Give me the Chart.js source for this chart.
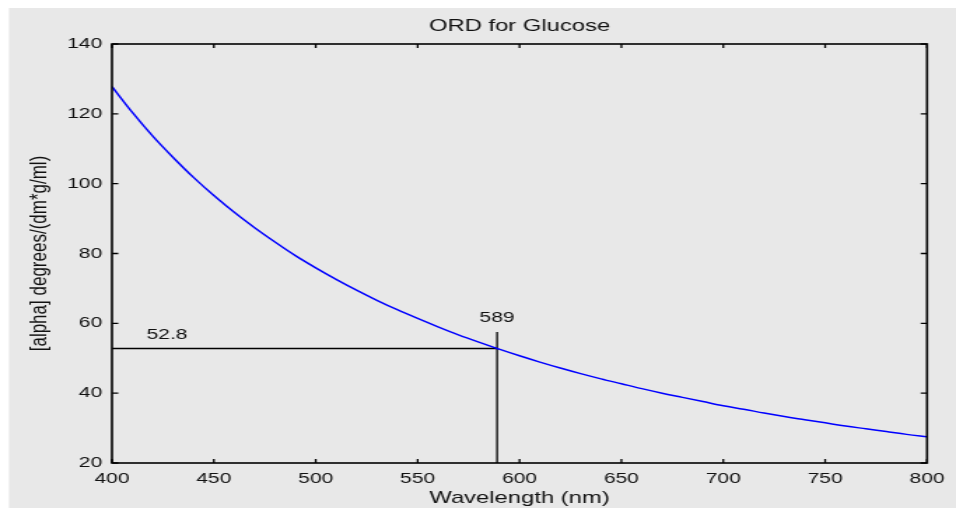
<!DOCTYPE html>
<html>
<head>
<meta charset="utf-8">
<script src="https://cdn.jsdelivr.net/npm/chart.js@4/dist/chart.umd.min.js"></script>
<style>
  body { margin: 0; background: #fff; }
</style>
</head>
<body>
<!-- the reference is horizontally stretched, so the canvas is drawn narrower and stretched by css -->
<canvas id="ord" width="683" height="510" style="width:956px;height:510px;display:block"></canvas>
<script>
// wavelength (nm) and specific rotation
var wavelength = [400, 410, 420, 430, 440, 450, 460, 470, 480, 490, 500, 510, 520, 530, 540, 550, 560, 570, 580, 589, 590,
    600, 610, 620, 630, 640, 650, 660, 670, 680, 690, 700, 710, 720, 730, 740, 750, 760, 770, 780, 790, 800];
var rotation = [127.8, 120.4, 113.6, 107.5, 101.8, 96.6, 91.8, 87.4, 83.3, 79.4, 75.9, 72.6, 69.5, 66.6, 63.9, 61.4, 59.0, 56.7, 54.6, 52.8, 52.6,
    50.7, 48.9, 47.2, 45.6, 44.1, 42.7, 41.3, 40.0, 38.8, 37.6, 36.4, 35.4, 34.3, 33.3, 32.4, 31.5, 30.6, 29.8, 29.0, 28.2, 27.5];

// sodium D line marker
var markX = [400, 589];
var markY = [52.8, 52.8];
var dropX = [589, 589];
var dropY = [20, 57.5];

var noteText = ['52.8', '589'];
var noteX = [427, 589];
var noteY = [56.6, 61.5];

var xTicks = [400, 450, 500, 550, 600, 650, 700, 750, 800];
var yTicks = [20, 40, 60, 80, 100, 120, 140];

var FONT = 'Arial, "Liberation Sans", sans-serif';
Chart.defaults.font.family = FONT;
Chart.defaults.color = '#111';

function pts(xs, ys) {
    return xs.map((x, i) => ({x: x, y: ys[i]}));
}

var frame = {
    id: 'frame',
    beforeDraw(chart) {
        var c = chart.ctx;
        c.save();
        c.fillStyle = '#fff';
        c.fillRect(0, 0, chart.width, chart.height);
        c.fillStyle = '#e8e8e8';
        c.fillRect(6.4, 8, chart.width, 500);
        c.restore();
    },
    afterDatasetsDraw(chart) {
        var c = chart.ctx, a = chart.chartArea, x = chart.scales.x, y = chart.scales.y;
        c.save();
        c.fillStyle = '#111';
        c.textAlign = 'center';
        c.textBaseline = 'middle';
        // title sits over the middle of the axes box, like matlab
        c.font = '17px ' + FONT;
        c.fillText('ORD for Glucose', (a.left + a.right) / 2, 26);
        c.font = '15px ' + FONT;
        noteText.forEach((t, i) => {
            c.fillText(t, x.getPixelForValue(noteX[i]), y.getPixelForValue(noteY[i]));
        });
        c.strokeStyle = '#000';
        c.lineWidth = 1.6;
        c.strokeRect(a.left, a.top, a.right - a.left, a.bottom - a.top);
        c.lineWidth = 1.3;
        c.beginPath();
        x.ticks.forEach(t => {
            var px = x.getPixelForValue(t.value);
            c.moveTo(px, a.bottom); c.lineTo(px, a.bottom - 4);
            c.moveTo(px, a.top); c.lineTo(px, a.top + 4);
        });
        y.ticks.forEach(t => {
            var py = y.getPixelForValue(t.value);
            c.moveTo(a.left, py); c.lineTo(a.left + 4.5, py);
            c.moveTo(a.right, py); c.lineTo(a.right - 4.5, py);
        });
        c.stroke();
        c.restore();
    }
};

new Chart(document.getElementById('ord'), {
    type: 'line',
    data: {
        datasets: [
            {
                data: pts(wavelength, rotation),
                borderColor: '#0000ff',
                borderWidth: 1.5,
                pointRadius: 0,
                cubicInterpolationMode: 'monotone'
            },
            {
                data: pts(markX, markY),
                borderColor: '#000',
                borderWidth: 1.5,
                pointRadius: 0
            },
            {
                data: pts(dropX, dropY),
                borderColor: '#000',
                borderWidth: 1.3,
                pointRadius: 0
            }
        ]
    },
    options: {
        responsive: false,
        animation: false,
        devicePixelRatio: 1,
        layout: { padding: { left: 0, right: 20.7, top: 44, bottom: 0 } },
        plugins: {
            legend: { display: false },
            tooltip: { enabled: false },
            title: { display: false }
        },
        scales: {
            x: {
                type: 'linear',
                min: 400,
                max: 800,
                afterBuildTicks: s => { s.ticks = xTicks.map(v => ({value: v})); },
                afterFit: s => { s.height = 47; },
                grid: { display: false, drawTicks: false },
                border: { display: false },
                ticks: { padding: 7, maxRotation: 0, font: { size: 15 }, color: '#111' },
                title: {
                    display: true,
                    text: 'Wavelength (nm)',
                    color: '#111',
                    font: { size: 17 },
                    padding: { top: 0, bottom: 1 }
                }
            },
            y: {
                min: 20,
                max: 140,
                afterBuildTicks: s => { s.ticks = yTicks.map(v => ({value: v})); },
                afterFit: s => { s.width = 80; },
                grid: { display: false, drawTicks: false, tickLength: 0 },
                border: { display: false },
                ticks: { padding: 7, font: { size: 15 }, color: '#111' },
                title: {
                    display: true,
                    text: '[alpha] degrees/(dm*g/ml)',
                    color: '#111',
                    font: { size: 17 },
                    padding: { top: 18, bottom: 0 }
                }
            }
        }
    },
    plugins: [frame]
});
</script>
</body>
</html>
